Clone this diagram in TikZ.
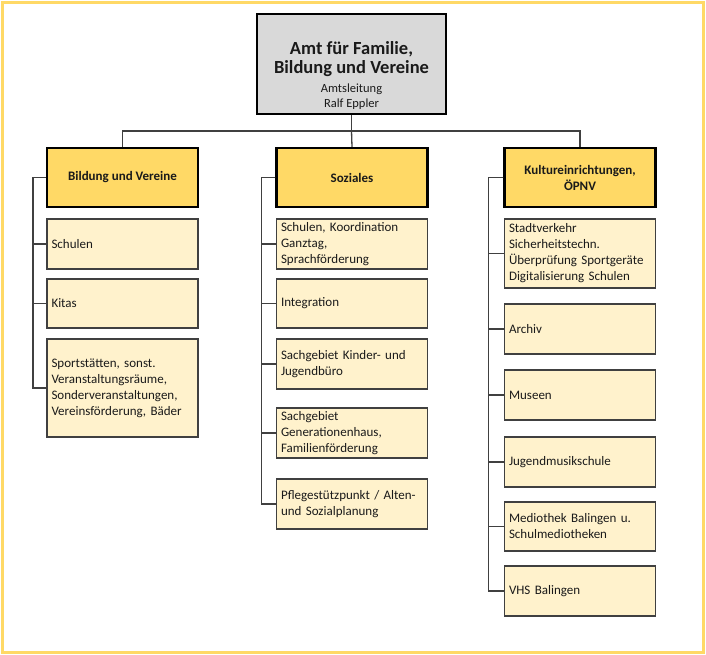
\documentclass[tikz,border=0pt]{standalone}
\usepackage{fontspec}
\setmainfont{Carlito}
\definecolor{gold}{HTML}{FFD966}
\definecolor{cream}{HTML}{FFF2CC}
\definecolor{topgray}{HTML}{D9D9D9}
\definecolor{linegray}{HTML}{404040}
\definecolor{txt}{HTML}{1A1A1A}
\newcommand{\titlefont}{\fontsize{18.5}{22}\selectfont\bfseries}
\newcommand{\subfont}{\fontsize{12.5}{14}\selectfont}
\begin{document}
\begin{tikzpicture}[x=1pt,y=-1pt,
  topbox/.style={draw=black,line width=2.8pt,fill=topgray,minimum width=189pt,minimum height=100pt,align=center,inner sep=0pt,text=txt},
  headbox/.style={draw=black,line width=2.2pt,fill=gold,minimum width=151pt,minimum height=59pt,align=center,inner sep=0pt,font=\fontsize{13}{16}\selectfont\bfseries,text=txt},
  childbox/.style={draw=linegray,line width=1.3pt,fill=cream,minimum width=151pt,text width=142pt,inner xsep=4.5pt,inner ysep=0pt,align=left,font=\fontsize{13}{16}\selectfont,text=txt},
  conn/.style={draw=linegray,line width=1.3pt},
  frame/.style={draw=gold,line width=3pt}
]
\useasboundingbox (0,0) rectangle (706,655);
\draw[frame] (2.5,2.5) rectangle (703,652);

\node[topbox] (top) at (351.5,64) {\titlefont\rule{0pt}{36pt}Amt für Familie,\\[2.5pt]\titlefont Bildung und Vereine\\[6.5pt]\subfont Amtsleitung\\[3pt]\subfont Ralf Eppler};

\node[headbox] (h1) at (122.5,177.5) {Bildung und Vereine};
\node[headbox] (h2) at (352,177.5) {Soziales};
\node[headbox] (h3) at (580,177.5) {Kultureinrichtungen,\\ÖPNV};

\coordinate (bus) at (351.5,131);
\draw[conn] (top.south) -- (bus);
\draw[conn] (bus) -| (h1.north);
\draw[conn] (bus) -| (h3.north);
\draw[conn] (bus) -- (h2.north);

% column 1
\node[childbox,minimum height=50pt] (a1) at (122.5,244) {Schulen};
\node[childbox,minimum height=49pt] (a2) at (122.5,303.5) {Kitas};
\node[childbox,minimum height=98pt] (a3) at (122.5,388) {Sportstätten, sonst.\\Veranstaltungsräume,\\Sonderveranstaltungen,\\Vereinsförderung, Bäder};
\foreach \c in {a1,a2,a3} \draw[conn] (h1.west) -- ++(-13,0) |- (\c.west);

% column 2
\node[childbox,minimum height=50pt] (b1) at (352,244) {Schulen, Koordination\\Ganztag,\\Sprachförderung};
\node[childbox,minimum height=49pt] (b2) at (352,303.5) {Integration};
\node[childbox,minimum height=50pt] (b3) at (352,364) {Sachgebiet Kinder- und\\Jugendbüro};
\node[childbox,minimum height=50pt] (b4) at (352,433) {Sachgebiet\\Generationenhaus,\\Familienförderung};
\node[childbox,minimum height=50pt] (b5) at (352,504) {Pflegestützpunkt / Alten-\\und Sozialplanung};
\foreach \c in {b1,b2,b3,b4,b5} \draw[conn] (h2.west) -- ++(-14,0) |- (\c.west);

% column 3
\node[childbox,minimum height=69pt] (c1) at (580,253.5) {Stadtverkehr\\Sicherheitstechn.\\Überprüfung Sportgeräte\\Digitalisierung Schulen};
\node[childbox,minimum height=50pt] (c2) at (580,329) {Archiv};
\node[childbox,minimum height=50pt] (c3) at (580,395) {Museen};
\node[childbox,minimum height=50pt] (c4) at (580,462) {Jugendmusikschule};
\node[childbox,minimum height=49pt] (c5) at (580,526.5) {Mediothek Balingen u.\\Schulmediotheken};
\node[childbox,minimum height=50pt] (c6) at (580,591) {VHS Balingen};
\foreach \c in {c1,c2,c3,c4,c5,c6} \draw[conn] (h3.west) -- ++(-15,0) |- (\c.west);
\end{tikzpicture}
\end{document}
